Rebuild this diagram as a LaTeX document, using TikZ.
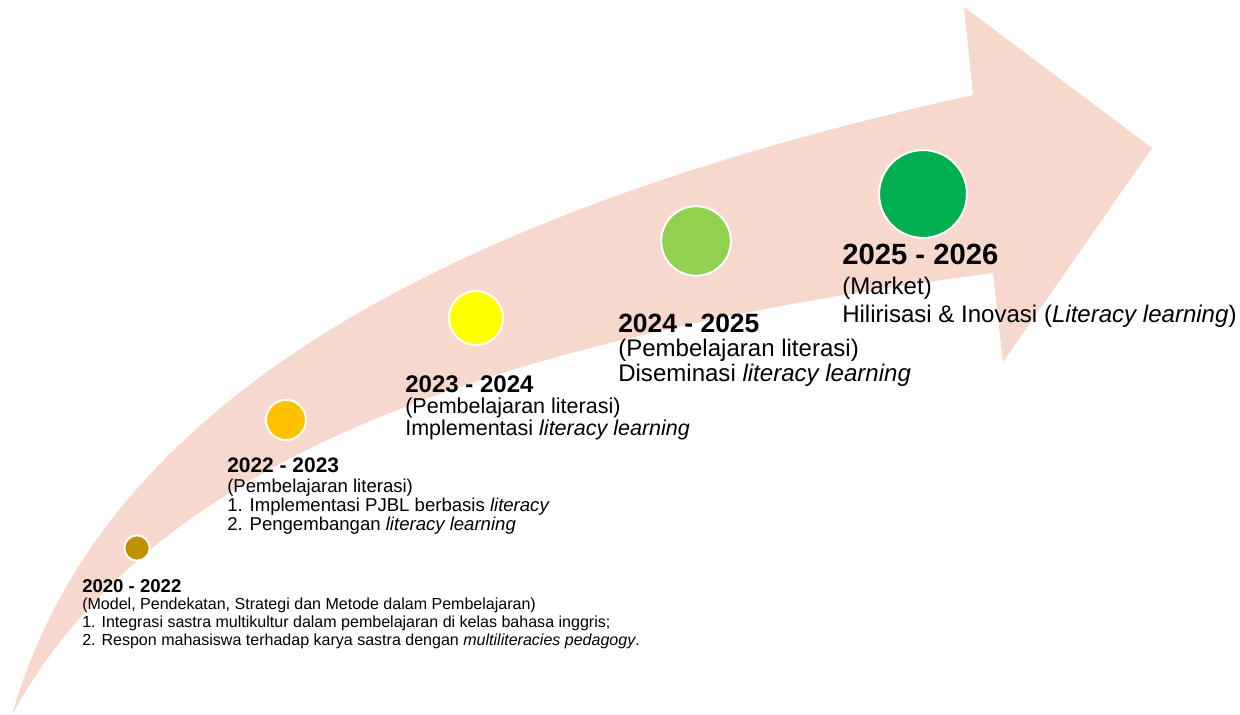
\documentclass[tikz,border=0pt]{standalone}
\usepackage{fontspec}
\setmainfont{Liberation Sans}
\definecolor{pfeil}{RGB}{247,216,205}
\definecolor{stufeA}{HTML}{BF9000}
\definecolor{stufeB}{HTML}{FFC000}
\definecolor{stufeC}{HTML}{FFFF00}
\definecolor{stufeD}{HTML}{92D050}
\definecolor{stufeE}{HTML}{00B050}
\tikzset{
	punkt/.style={circle, draw=white, line width=1.4pt, inner sep=0pt},
	jahr/.style={anchor=base west, inner sep=0pt, font=\bfseries\fontsize{#1pt}{#1pt}\selectfont},
	inhalt/.style 2 args={anchor=base west, align=left, inner sep=0pt, font=\fontsize{#1pt}{#2pt}\selectfont}
}
\begin{document}
\begin{tikzpicture}[x=.025cm, y=-.025cm]
	\useasboundingbox (0,0) rectangle (1240,715);
	%Pfeil
	\fill[pfeil] (12,715) .. controls (100,405) and (437,214) .. (973,95) -- (964,7) -- (1152,148)
		-- (1003,362) -- (993,273) .. controls (482,340) and (150,462) .. (12,715) -- cycle;
	%Punkte
	\node[punkt, fill=stufeA, minimum size=18pt]   (p1) at (137,548) {};
	\node[punkt, fill=stufeB, minimum size=28.5pt] (p2) at (286,420) {};
	\node[punkt, fill=stufeC, minimum size=38.5pt] (p3) at (476,318) {};
	\node[punkt, fill=stufeD, minimum size=49.5pt] (p4) at (696,241) {};
	\node[punkt, fill=stufeE, minimum size=62.5pt] (p5) at (923,194) {};
	%Texte (base = letzte Zeile)
	\node[jahr=13.2]            (j1) at (82,592)   {2020 - 2022};
	\node[inhalt={11.4}{12.8}]  (t1) at (82,645.5) {(Model, Pendekatan, Strategi dan Metode dalam Pembelajaran)\\1. Integrasi sastra multikultur dalam pembelajaran di kelas bahasa inggris;\\2. Respon mahasiswa terhadap karya sastra dengan \textit{multiliteracies pedagogy}.};
	\node[jahr=14.9]            (j2) at (227,472)  {2022 - 2023};
	\node[inhalt={13.2}{13.5}]  (t2) at (227,530)  {(Pembelajaran literasi)\\1. Implementasi PJBL berbasis \textit{literacy}\\2. Pengembangan \textit{literacy learning}};
	\node[jahr=17.1]            (j3) at (405,392)  {2023 - 2024};
	\node[inhalt={15.3}{15.6}]  (t3) at (405,435)  {(Pembelajaran literasi)\\Implementasi \textit{literacy learning}};
	\node[jahr=18.8]            (j4) at (618,332)  {2024 - 2025};
	\node[inhalt={17.1}{17.1}]  (t4) at (618,381)  {(Pembelajaran literasi)\\Diseminasi \textit{literacy learning}};
	\node[jahr=20.8]            (j5) at (842,265)  {2025 - 2026};
	\node[inhalt={17.1}{19.6}]  (t5) at (842,322.5){(Market)\\Hilirisasi \& Inovasi (\textit{Literacy learning})};
\end{tikzpicture}
\end{document}
